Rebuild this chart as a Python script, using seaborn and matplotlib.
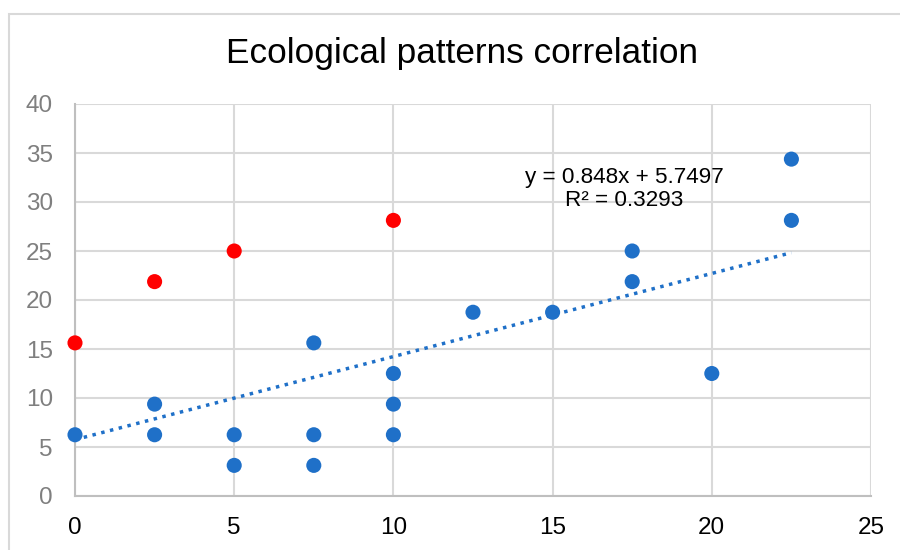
import numpy as np
import pandas as pd
import matplotlib
matplotlib.use("Agg")
import matplotlib.pyplot as plt
import seaborn as sns
from matplotlib.patches import Rectangle

# Data
blue_x = [0, 2.5, 2.5, 5, 5, 7.5, 7.5, 7.5, 10, 10, 10, 12.5, 15, 17.5, 17.5, 20, 22.5, 22.5]
blue_y = [6.25, 9.375, 6.25, 6.25, 3.125, 15.625, 6.25, 3.125, 12.5, 9.375, 6.25,
          18.75, 18.75, 25, 21.875, 12.5, 34.375, 28.125]
red_x = [0, 2.5, 5, 10]
red_y = [15.625, 21.875, 25, 28.125]

# trendline shown on the chart (fitted on the blue points)
trend_slope = 0.848
trend_intercept = 5.7497
trend_r2 = 0.3293

x_ticks = [0, 5, 10, 15, 20, 25]
y_ticks = [0, 5, 10, 15, 20, 25, 30, 35, 40]

blue = "#1F70C8"
red = "#FF0000"
grid_col = "#D9D9D9"

df = pd.DataFrame({
    "x": blue_x + red_x,
    "y": blue_y + red_y,
    "group": ["blue"] * len(blue_x) + ["red"] * len(red_x),
})

sns.set_style("white")
plt.rcParams["font.family"] = ["Liberation Sans", "DejaVu Sans"]

fig = plt.figure(figsize=(9, 5.5), dpi=100)
ax = fig.add_axes([75 / 900, 1 - 496 / 550, 796 / 900, 392 / 550])

# outer chart frame
fig.patches.append(Rectangle((9 / 900, -0.1), 1.0, 1 - 14 / 550 + 0.1,
                             transform=fig.transFigure, fill=False,
                             edgecolor=grid_col, linewidth=1.5, zorder=0))

# trendline
tx = np.array([min(blue_x), max(blue_x)])
sns.lineplot(x=tx, y=trend_slope * tx + trend_intercept, ax=ax, color=blue,
             linewidth=2.5, linestyle=(0, (1, 1.6)), zorder=2)

sns.scatterplot(data=df, x="x", y="y", hue="group",
                palette={"blue": blue, "red": red}, s=118, linewidth=0,
                legend=False, ax=ax, zorder=3, clip_on=False)

ax.set_xlim(0, 25)
ax.set_ylim(0, 40)
ax.set_xticks(x_ticks)
ax.set_yticks(y_ticks)
ax.set_xlabel("")
ax.set_ylabel("")
ax.grid(True, color=grid_col, linewidth=1.5)
ax.set_axisbelow(True)
for side in ["top", "right"]:
    ax.spines[side].set_visible(False)
for side in ["left", "bottom"]:
    ax.spines[side].set_color("#BFBFBF")
    ax.spines[side].set_linewidth(1.5)
ax.tick_params(axis="x", length=0, pad=15, labelsize=17.5, labelcolor="black")
ax.tick_params(axis="y", length=0, pad=16, labelsize=17.5, labelcolor="#7F7F7F")

ax.text(17.25, 31.3, f"y = {trend_slope}x + {trend_intercept}\nR² = {trend_r2}",
        ha="center", va="center", fontsize=16.2, linespacing=1.1, color="black")

fig.text(461.5 / 900, 1 - 53 / 550, "Ecological patterns correlation",
         ha="center", va="center", fontsize=25.3, color="black")

fig.savefig("out.png", dpi=100)
